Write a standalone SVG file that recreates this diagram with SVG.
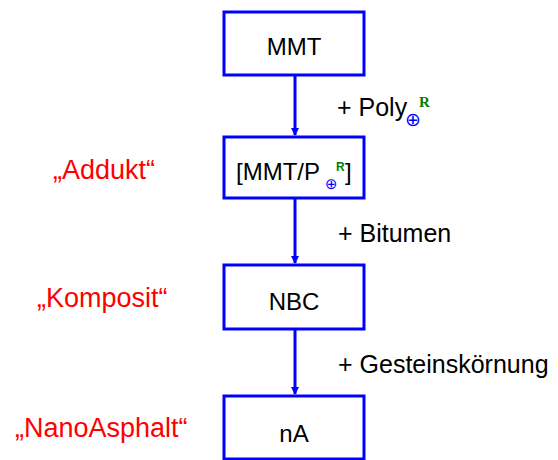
<svg xmlns="http://www.w3.org/2000/svg" width="558" height="460" viewBox="0 0 558 460">
<style>
.box{fill:#fff;stroke:#0000ff;stroke-width:3}
.t{font-family:"Liberation Sans",Arial,sans-serif;font-size:24px;fill:#000}
.lbl{font-family:"Liberation Sans",Arial,sans-serif;font-size:25px;fill:#000}
.red{font-family:"Liberation Sans",Arial,sans-serif;font-size:27px;fill:#ff0000}
.edge{stroke:#0000ff;stroke-width:3;fill:none}
.op{font-family:"DejaVu Sans",sans-serif;fill:#0000ff}
.r{fill:#008000;font-weight:bold}
</style>
<defs>
<marker id="ah" markerWidth="8" markerHeight="8" refX="7" refY="4" orient="auto" markerUnits="userSpaceOnUse">
<path d="M0,0 L8,4 L0,8 z" fill="#0000ff"/>
</marker>
</defs>
<rect width="558" height="460" fill="#fff"/>
<g id="connectors">
<line class="edge" x1="295" y1="76" x2="295" y2="135" marker-end="url(#ah)"/>
<line class="edge" x1="295" y1="199" x2="295" y2="263" marker-end="url(#ah)"/>
<line class="edge" x1="295" y1="330" x2="295" y2="394" marker-end="url(#ah)"/>
<text class="lbl" x="337" y="116">+ Poly</text>
<text class="op" x="405" y="126" font-size="19">⊕</text>
<text class="r" x="419" y="107" font-family="'Liberation Serif',serif" font-size="15">R</text>
<text class="lbl" x="338" y="242">+ Bitumen</text>
<text class="lbl" x="338" y="373">+ Gesteinskörnung</text>
</g>
<g id="n1">
<rect class="box" x="224" y="12" width="140" height="63"/>
<text class="t" x="294" y="55" text-anchor="middle">MMT</text>
</g>
<g id="n2">
<rect class="box" x="224" y="137" width="140" height="61"/>
<text class="t" x="236" y="180">[MMT/P</text>
<text class="op" x="325" y="189" font-size="15">⊕</text>
<text class="r" x="336" y="171" font-family="'Liberation Sans',sans-serif" font-size="12">R</text>
<text class="t" x="345" y="180">]</text>
</g>
<g id="n3">
<rect class="box" x="224" y="265" width="140" height="64"/>
<text class="t" x="294" y="310" text-anchor="middle">NBC</text>
</g>
<g id="n4">
<rect class="box" x="224" y="396" width="140" height="63"/>
<text class="t" x="294" y="442" text-anchor="middle">nA</text>
</g>
<g id="labels">
<text class="red" x="53" y="179">„Addukt“</text>
<text class="red" x="37" y="307">„Komposit“</text>
<text class="red" x="15" y="437">„NanoAsphalt“</text>
</g>
</svg>
